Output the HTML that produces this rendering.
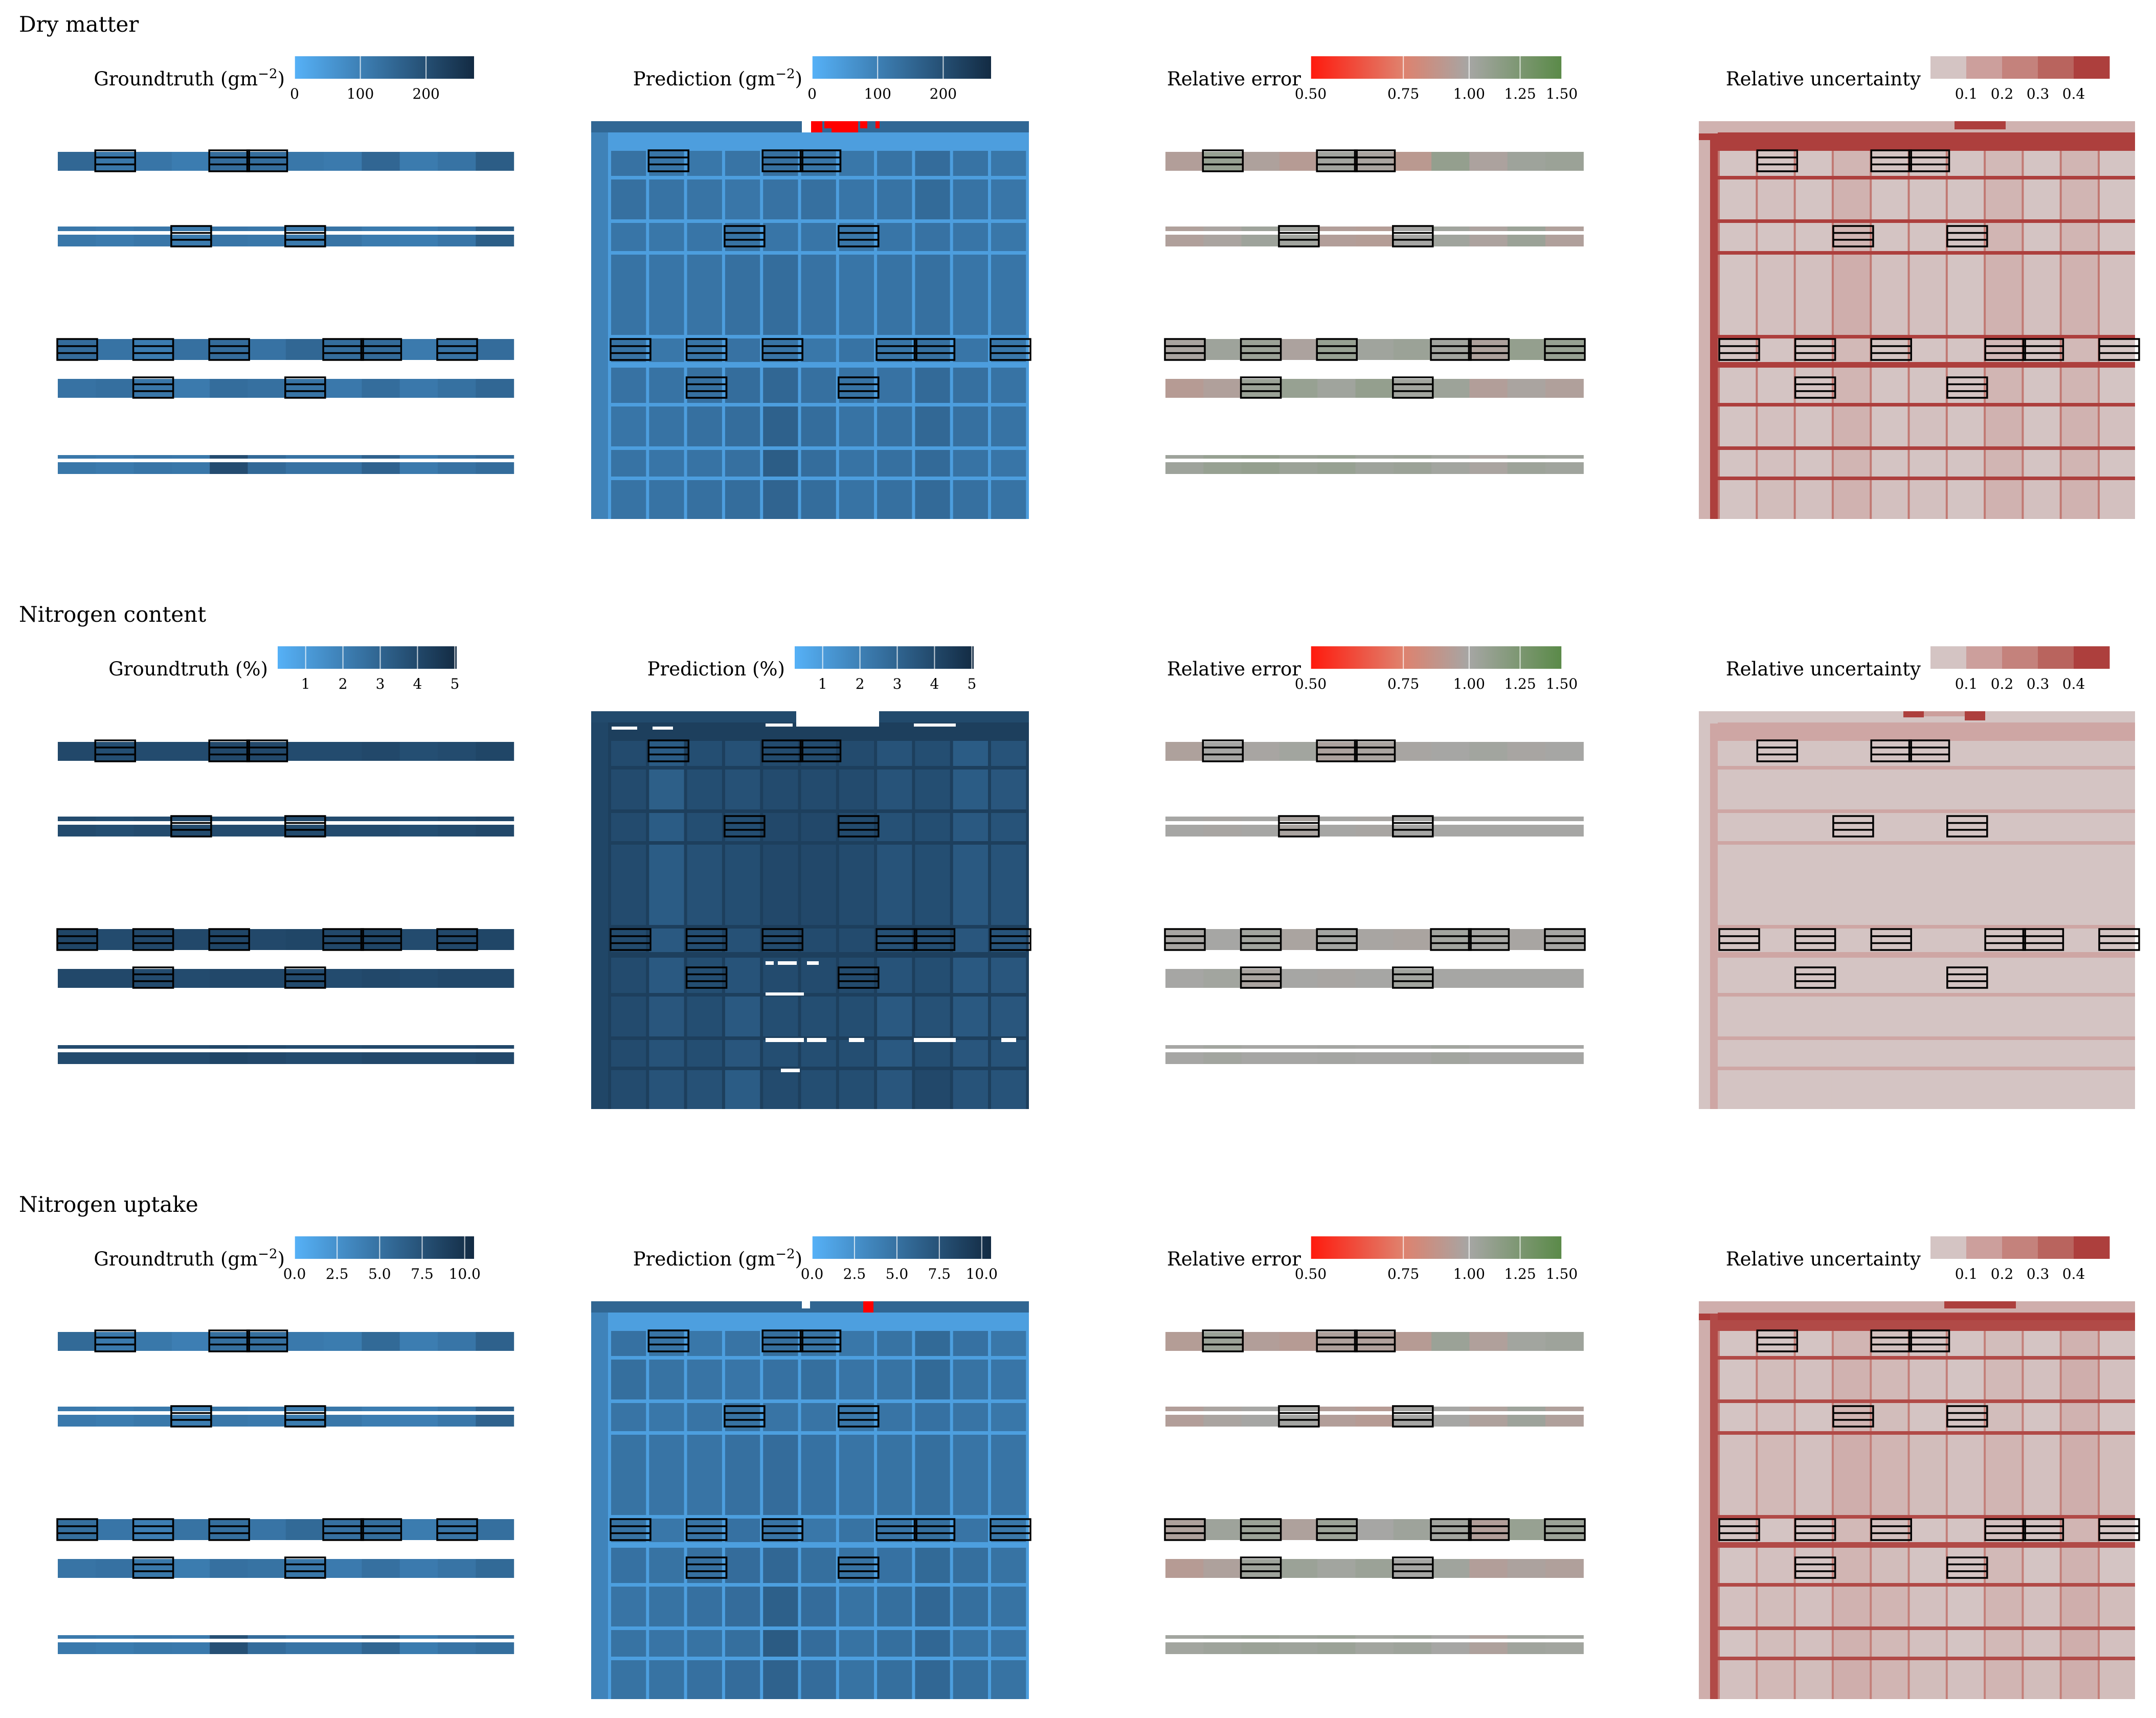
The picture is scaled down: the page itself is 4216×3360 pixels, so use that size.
<!DOCTYPE html>
<html><head><meta charset="utf-8"><title>Dry matter / Nitrogen maps</title>
<style>
html,body{margin:0;padding:0;background:#fff;}
svg{display:block;}
text{font-family:"DejaVu Serif","Liberation Serif",serif;fill:#000;}
</style></head>
<body>
<svg id="fig" xmlns="http://www.w3.org/2000/svg" width="4216" height="3360" viewBox="0 0 4216 3360"></svg>
<script>
// ---------------- DATA ----------------
const rowTitles = ["Dry matter", "Nitrogen content", "Nitrogen uptake"];
const gtLabels = ["Groundtruth (gm", "Groundtruth (%)", "Groundtruth (gm"];
const predLabels = ["Prediction (gm", "Prediction (%)", "Prediction (gm"];
const labelSup = [true, false, true];
const blueMin = [0, 0.25, 0];
const blueMax = [273, 5.05, 10.55];
const blueTicks = [[0,100,200],[1,2,3,4,5],[0,2.5,5,7.5,10]];
const blueTickLabels = [["0","100","200"],["1","2","3","4","5"],["0.0","2.5","5.0","7.5","10.0"]];
const relTicks = [0.5,0.75,1.0,1.25,1.5];
const relTickLabels = ["0.50","0.75","1.00","1.25","1.50"];
const uncBins = [0,0.1,0.2,0.3,0.4,0.5];
const uncTicks = [0.1,0.2,0.3,0.4];
const uncTickLabels = ["0.1","0.2","0.3","0.4"];

// sampled plot boxes (column index per strip)
const boxesA = [1,4,5];
const boxesB = [3,6];
const boxesC = [0,2,4,7,8,10];
const boxesD = [2,6];

// prediction plot values (9 plot rows x 12 columns)
const predDM = [
 [128,122,118,124,132,122,118,126,140,126,118,130],
 [132,126,124,120,128,132,122,126,142,126,120,132],
 [122,118,122,126,122,122,118,122,128,122,118,124],
 [126,122,124,132,138,128,122,126,132,122,122,126],
 [126,118,122,128,124,118,126,122,132,122,118,124],
 [128,126,132,138,150,132,126,128,144,132,126,128],
 [122,126,132,138,162,138,126,132,148,132,126,132],
 [126,122,126,132,172,138,126,132,144,126,122,126],
 [126,126,132,138,156,138,126,132,144,132,126,132]];
const predN = [
 [3.9,3.3,3.8,3.7,3.9,3.9,3.9,3.6,3.8,3.3,3.6,3.7],
 [3.9,3.2,3.8,3.7,3.9,3.9,3.9,3.6,3.8,3.3,3.5,3.7],
 [3.9,3.3,3.8,3.8,4.0,4.0,3.9,3.7,3.8,3.4,3.6,3.7],
 [3.9,3.3,3.7,3.8,4.0,4.0,3.9,3.6,3.8,3.4,3.6,3.7],
 [3.9,3.4,3.8,3.7,3.9,3.9,3.9,3.7,3.8,3.5,3.6,3.7],
 [3.9,3.4,3.8,3.6,3.9,3.9,3.9,3.6,3.8,3.4,3.5,3.7],
 [3.9,3.5,3.8,3.4,3.8,3.8,3.8,3.4,3.7,3.4,3.5,3.7],
 [3.9,3.6,3.8,3.5,3.8,3.8,3.8,3.4,3.8,3.5,3.6,3.7],
 [3.9,3.6,3.7,3.3,3.9,3.8,3.8,3.5,4.0,3.6,3.6,3.7]];
const predNU = [
 [5.0,4.8,4.6,4.8,5.2,4.8,4.6,4.9,5.6,5.0,4.6,5.0],
 [5.2,4.9,4.8,4.7,5.0,5.2,4.8,4.9,5.6,4.9,4.7,5.1],
 [4.8,4.6,4.8,4.9,4.8,4.8,4.6,4.8,5.0,4.8,4.6,4.8],
 [4.9,4.8,4.8,5.1,5.4,5.0,4.8,4.9,5.2,4.8,4.8,4.9],
 [4.9,4.6,4.8,5.0,4.8,4.6,4.9,4.8,5.2,4.8,4.6,4.8],
 [5.0,4.9,5.1,5.4,5.8,5.2,4.9,5.0,5.6,5.2,4.9,5.0],
 [4.8,4.9,5.1,5.4,6.4,5.4,4.9,5.2,5.8,5.2,4.9,5.1],
 [4.9,4.8,4.9,5.2,6.8,5.4,4.9,5.2,5.8,4.9,4.8,4.9],
 [4.9,4.9,5.1,5.4,6.2,5.4,4.9,5.2,5.8,5.2,4.9,5.1]];
const predPath = [38, 4.35, 1.4];
const predMargin = [95, 4.1, 3.6];
const predTop = [150, 3.95, 5.9];

// uncertainty plot values (9 x 12)
const uncDM = [
 [0.03,0.04,0.04,0.09,0.04,0.03,0.04,0.08,0.04,0.09,0.04,0.04],
 [0.04,0.06,0.05,0.10,0.05,0.05,0.05,0.09,0.05,0.09,0.05,0.06],
 [0.03,0.04,0.04,0.09,0.04,0.04,0.04,0.09,0.04,0.09,0.04,0.05],
 [0.05,0.06,0.06,0.11,0.06,0.06,0.05,0.10,0.06,0.10,0.06,0.06],
 [0.03,0.03,0.03,0.08,0.03,0.03,0.03,0.08,0.03,0.08,0.03,0.04],
 [0.04,0.05,0.04,0.09,0.04,0.04,0.04,0.09,0.04,0.09,0.04,0.05],
 [0.05,0.06,0.05,0.10,0.05,0.06,0.04,0.10,0.05,0.10,0.06,0.06],
 [0.04,0.06,0.05,0.09,0.04,0.05,0.04,0.09,0.05,0.09,0.05,0.06],
 [0.05,0.07,0.06,0.10,0.06,0.06,0.05,0.10,0.06,0.10,0.06,0.07]];
const uncN = [
 [0.04,0.04,0.04,0.04,0.04,0.04,0.04,0.04,0.04,0.04,0.04,0.04],
 [0.04,0.04,0.04,0.04,0.04,0.04,0.04,0.04,0.04,0.04,0.04,0.04],
 [0.04,0.04,0.04,0.04,0.04,0.04,0.04,0.04,0.04,0.04,0.04,0.04],
 [0.04,0.04,0.04,0.04,0.04,0.04,0.04,0.04,0.04,0.04,0.04,0.04],
 [0.04,0.04,0.04,0.04,0.04,0.04,0.04,0.04,0.04,0.04,0.04,0.04],
 [0.04,0.04,0.04,0.04,0.04,0.04,0.04,0.04,0.04,0.04,0.04,0.04],
 [0.04,0.04,0.04,0.04,0.04,0.04,0.04,0.04,0.04,0.04,0.04,0.04],
 [0.04,0.04,0.04,0.04,0.04,0.04,0.04,0.04,0.04,0.04,0.04,0.04],
 [0.04,0.04,0.04,0.04,0.04,0.04,0.04,0.04,0.04,0.04,0.04,0.04]];
const uncNU = [
 [0.04,0.05,0.04,0.09,0.06,0.04,0.04,0.07,0.05,0.10,0.05,0.05],
 [0.05,0.07,0.06,0.10,0.08,0.06,0.05,0.08,0.06,0.11,0.06,0.06],
 [0.04,0.06,0.05,0.09,0.07,0.04,0.04,0.07,0.05,0.10,0.05,0.06],
 [0.06,0.08,0.06,0.11,0.09,0.07,0.06,0.09,0.06,0.11,0.07,0.07],
 [0.03,0.04,0.04,0.08,0.06,0.03,0.03,0.06,0.04,0.09,0.04,0.05],
 [0.04,0.06,0.05,0.09,0.07,0.05,0.04,0.08,0.05,0.10,0.05,0.06],
 [0.06,0.07,0.06,0.10,0.09,0.06,0.05,0.09,0.06,0.11,0.07,0.07],
 [0.05,0.07,0.06,0.10,0.08,0.06,0.05,0.08,0.06,0.11,0.06,0.06],
 [0.06,0.08,0.07,0.11,0.09,0.07,0.06,0.09,0.07,0.11,0.07,0.07]];
const uncHPath = [0.45, 0.13, 0.42];
const uncVPath = [0.28, 0.04, 0.26];
const uncMargin = [0.10, 0.04, 0.11];

// groundtruth strip values (5 strips x 12 columns)
const gtDM = [
 [150,118,122,108,140,138,118,112,152,110,126,172],
 [118,112,120,110,122,118,112,124,110,108,122,170],
 [140,126,108,132,140,128,150,138,142,112,128,140],
 [128,134,120,112,138,132,124,116,138,116,130,150],
 [118,112,122,118,205,146,128,128,160,112,128,140]];
const gtN = [
 [4.0,3.8,3.9,3.9,4.0,4.0,3.9,3.9,4.0,3.8,3.9,4.1],
 [3.9,3.8,3.9,3.9,3.9,3.9,3.9,3.9,3.9,3.8,3.9,4.0],
 [4.1,3.9,4.0,4.0,4.1,4.0,4.1,4.0,4.1,3.9,4.0,4.1],
 [4.0,4.0,3.9,3.9,4.0,4.0,3.9,3.9,4.0,3.9,4.0,4.0],
 [3.9,3.9,3.9,3.9,4.1,4.0,3.9,3.9,4.0,3.9,3.9,4.0]];
const gtNU = [
 [5.6,4.4,4.5,4.0,5.2,5.2,4.4,4.2,5.6,4.1,4.7,6.3],
 [4.4,4.2,4.5,4.1,4.6,4.4,4.2,4.6,4.1,4.0,4.6,6.2],
 [5.2,4.7,4.0,4.9,5.2,4.8,5.6,5.1,5.3,4.2,4.8,5.2],
 [4.8,5.0,4.5,4.2,5.1,4.9,4.6,4.3,5.1,4.3,4.8,5.6],
 [4.4,4.2,4.5,4.4,7.6,5.4,4.8,4.8,5.9,4.2,4.8,5.2]];

// relative error strip values (5 strips x 11 columns)
const relDM = [
 [0.94,1.08,0.96,0.92,1.02,0.98,0.90,1.10,0.97,1.04,1.06],
 [0.95,0.98,1.04,1.02,0.94,0.93,1.00,1.03,0.97,1.06,0.95],
 [0.98,1.04,1.06,0.97,1.08,1.03,1.06,1.02,0.96,1.10,1.08],
 [0.92,0.95,1.06,1.08,1.03,1.10,1.02,1.05,0.94,0.98,0.95],
 [1.04,1.08,1.10,1.06,1.08,1.04,1.06,1.02,0.98,1.05,1.03]];
const relN = [
 [0.96,1.00,0.99,1.02,0.97,0.98,0.99,1.00,1.02,0.99,1.00],
 [1.00,0.99,1.00,0.98,1.00,0.99,1.00,1.00,1.00,1.00,1.00],
 [0.99,1.00,1.02,0.98,1.01,0.99,0.98,1.02,1.00,0.99,1.00],
 [1.00,1.02,0.98,1.00,0.99,1.00,1.02,1.00,1.00,1.00,1.00],
 [1.00,1.02,1.00,1.00,1.01,1.00,1.00,1.02,1.00,1.00,1.00]];
const relNU = [
 [0.93,1.06,0.94,0.92,0.96,0.95,0.92,1.06,0.95,1.02,1.04],
 [0.94,0.98,1.00,1.01,0.94,0.92,1.00,1.00,0.96,1.04,0.95],
 [0.96,1.04,1.06,0.96,1.06,1.00,1.04,1.02,0.94,1.08,1.06],
 [0.92,0.96,1.04,1.06,1.02,1.06,1.00,1.03,0.94,0.97,0.95],
 [1.02,1.04,1.06,1.04,1.06,1.02,1.04,1.00,0.96,1.03,1.02]];

// special cells: [x0,y0,x1,y1,value] (null = missing/white)
const predPatchesDM = [[430,0,452,22,300],[456,0,470,14,300],[470,0,522,22,300],[526,0,540,14,300],[556,0,564,14,300],[412,0,430,22,null]];
const predPatchesN = [[401,0,563,30,null],[341,24,394,30,null],[631,24,713,30,null],[341,550,416,556,null],[341,639,416,647,null],[422,639,460,647,null],[504,639,534,647,null],[631,639,713,647,null],[802,639,831,647,null],[341,489,357,496,null],[365,489,402,496,null],[422,489,445,496,null],[371,699,408,706,null],[120,30,160,36,null],[40,30,90,36,null]];
const predPatchesNU = [[532,0,552,22,300],[412,0,428,14,null]];
const uncPatchesDM = [[500,0,600,16,0.45],[0,24,853,37,0.45]];
const uncPatchesN = [[400,0,440,12,0.45],[520,0,560,18,0.45],[440,0,520,10,0.15]];
const uncPatchesNU = [[480,0,620,14,0.45],[0,24,853,37,0.45]];

// ---------------- LAYOUT ----------------
const NS = "http://www.w3.org/2000/svg";
const svg = document.getElementById("fig");
const rowTops = [237, 1391, 2545];
const PANEL_H = 778;
const COLW = 74.3;
const plotRows = [[58,107],[114,192],[199,254],[261,418],[425,471],[482,551],[558,636],[643,695],[702,778]];
const stripRows = [[[60,97]],[[206,215],[222,245]],[[426,467]],[[504,541]],[[653,660],[667,690]]];
const boxRows = [[57,98],[205,245],[426,467],[501,541]];
const boxCols = [boxesA, boxesB, boxesC, boxesD];

function hex2rgb(h){return [parseInt(h.substr(1,2),16),parseInt(h.substr(3,2),16),parseInt(h.substr(5,2),16)];}
function mix(a,b,t){const A=hex2rgb(a),B=hex2rgb(b);return "rgb("+A.map((v,i)=>Math.round(v+(B[i]-v)*t)).join(",")+")";}
function blueColor(v,ri){
  if(v===null) return "#ffffff";
  if(v>blueMax[ri]) return "#ff0000";
  const t=Math.max(0,Math.min(1,(v-blueMin[ri])/(blueMax[ri]-blueMin[ri])));
  return mix("#56B1F7","#132B43",t);
}
function relT(v){return (Math.log(v)-Math.log(0.5))/(Math.log(1.5)-Math.log(0.5));}
const relStops=[[0,"#ff1a0d"],[0.36,"#e0806c"],[0.63,"#a6a6a4"],[1,"#5a8a48"]];
function relColor(v){
  const t=Math.max(0,Math.min(1,relT(v)));
  for(let i=0;i<relStops.length-1;i++){
    if(t<=relStops[i+1][0]){return mix(relStops[i][1],relStops[i+1][1],(t-relStops[i][0])/(relStops[i+1][0]-relStops[i][0]));}
  }
  return relStops[relStops.length-1][1];
}
const uncColors=["#d4c4c3","#cc9f9c","#c4827c","#b9645e","#ad3f3d"];
function uncColor(v){
  const p=Math.max(0,Math.min(4,v/0.1-0.5));
  const i=Math.min(3,Math.floor(p));
  return mix(uncColors[i],uncColors[i+1],p-i);
}
function mk(tag,parent){const e=document.createElementNS(NS,tag);parent.appendChild(e);return e;}
function rect(parent,x,y,w,h,fill,name){
  const r=mk("rect",parent);
  r.setAttribute("x",x.toFixed(1));r.setAttribute("y",y.toFixed(1));
  r.setAttribute("width",Math.max(0,w).toFixed(1));r.setAttribute("height",Math.max(0,h).toFixed(1));
  r.setAttribute("fill",fill);
  
  
  return r;
}
function text(parent,x,y,str,size,anchor,name){
  const t=mk("text",parent);
  t.setAttribute("x",x);t.setAttribute("y",y);t.setAttribute("font-size",size);
  t.setAttribute("text-anchor",anchor);
  t.textContent=str;
  
  
  return t;
}

function blueBar(g,ri,x0,x1,top,label,sup,name){
  const gid="grad"+name;
  const defs=mk("defs",g);
  const lg=mk("linearGradient",defs);lg.setAttribute("id",gid);
  const s1=mk("stop",lg);s1.setAttribute("offset","0");s1.setAttribute("stop-color","#56B1F7");
  const s2=mk("stop",lg);s2.setAttribute("offset","1");s2.setAttribute("stop-color","#132B43");
  rect(g,x0,top-127,x1-x0,44,"url(#"+gid+")",name+"-colorbar");
  const sc=v=>x0+(v-blueMin[ri])/(blueMax[ri]-blueMin[ri])*(x1-x0);
  blueTicks[ri].forEach((v,i)=>{
    rect(g,sc(v)-1,top-127,2,44,"rgba(255,255,255,0.75)",name+"-tick-mark");
    text(g,sc(v),top-44,blueTickLabels[ri][i],28,"middle",name+"-tick-label");
  });
  const t=text(g,x0-19,top-70,label,37,"end",name+"-colorbar-title");
  if(sup){
    const ts=mk("tspan",t);ts.setAttribute("font-size","26");ts.setAttribute("dy","-14");ts.textContent="\u22122";
    const te=mk("tspan",t);te.setAttribute("dy","14");te.textContent=")";
  }
}
function relBar(g,top){
  const x0=2563,x1=3054;
  const defs=mk("defs",g);
  const lg=mk("linearGradient",defs);lg.setAttribute("id","relgrad"+top);
  relStops.forEach(s=>{const st=mk("stop",lg);st.setAttribute("offset",s[0]);st.setAttribute("stop-color",s[1]);});
  rect(g,x0,top-127,x1-x0,44,"url(#relgrad"+top+")","relative-error-colorbar");
  relTicks.forEach((v,i)=>{
    const x=x0+relT(v)*(x1-x0);
    rect(g,x-1,top-127,2,44,"rgba(255,255,255,0.75)","relative-error-tick-mark");
    text(g,x,top-44,relTickLabels[i],28,"middle","relative-error-tick-label");
  });
  text(g,x0-19,top-70,"Relative error",37,"end","relative-error-colorbar-title");
}
function uncBar(g,top){
  const x0=3775,x1=4125;
  const sc=v=>x0+(v-uncBins[0])/(uncBins[uncBins.length-1]-uncBins[0])*(x1-x0);
  for(let i=0;i<uncBins.length-1;i++){
    rect(g,sc(uncBins[i]),top-127,sc(uncBins[i+1])-sc(uncBins[i])+0.5,44,uncColors[i],"uncertainty-colorbar-bin");
  }
  uncTicks.forEach((v,i)=>text(g,sc(v),top-44,uncTickLabels[i],28,"middle","uncertainty-tick-label"));
  text(g,x0-19,top-70,"Relative uncertainty",37,"end","uncertainty-colorbar-title");
}

function drawBoxes(g,col0,top){
  boxRows.forEach((br,s)=>{
    boxCols[s].forEach(k=>{
      const x=col0+k*COLW-1, y=top+br[0], w=78, h=br[1]-br[0];
      const bg=mk("g",g);
      
      
      const r=rect(bg,x,y,w,h,"none","sampled-plot-outline");
      r.setAttribute("stroke","#000");r.setAttribute("stroke-width","3.5");
      [1,2].forEach(j=>{
        rect(bg,x,y+h*j/3-1.5,w,3.5,"#000","sampled-plot-divider");
      });
    });
  });
}

function fieldPanel(g,x,top,w,col0off,gap,matrix,colorFn,margin,topVal,hPath,vPath,patches,name){
  const pg=mk("g",g);
  
  
  rect(pg,x,top,w,PANEL_H,colorFn(margin),name+"-margin");
  rect(pg,x,top,w,22,colorFn(topVal),name+"-headland");
  const fx=x+col0off-gap;
  rect(pg,fx,top+22,x+w-fx,PANEL_H-22,colorFn(vPath),name+"-paths");
  for(let r=0;r<plotRows.length-1;r++){
    rect(pg,fx,top+plotRows[r][1],x+w-fx,plotRows[r+1][0]-plotRows[r][1],colorFn(hPath),name+"-path-row");
  }
  rect(pg,fx,top+22,x+w-fx,plotRows[0][0]-22,colorFn(hPath),name+"-path-row");
  matrix.forEach((row,r)=>{
    row.forEach((v,k)=>{
      const x0=x+col0off+k*COLW;
      const x1=Math.min(x+w,x0+COLW-gap);
      if(x1>x0) rect(pg,x0,top+plotRows[r][0],x1-x0,plotRows[r][1]-plotRows[r][0],colorFn(v),name+"-cell");
    });
  });
  patches.forEach(p=>rect(pg,x+p[0],top+p[1],p[2]-p[0],p[3]-p[1],colorFn(p[4]),name+"-special-cell"));
  return pg;
}
function stripPanel(g,col0,top,nCols,values,colorFn,name){
  const pg=mk("g",g);
  
  
  values.forEach((row,s)=>{
    stripRows[s].forEach(sr=>{
      for(let k=0;k<nCols;k++){
        rect(pg,col0+k*COLW,top+sr[0],COLW+0.6,sr[1]-sr[0],colorFn(row[k]),name+"-strip-cell");
      }
    });
  });
  return pg;
}

const preds=[predDM,predN,predNU];
const uncs=[uncDM,uncN,uncNU];
const gts=[gtDM,gtN,gtNU];
const rels=[relDM,relN,relNU];
const predPatches=[predPatchesDM,predPatchesN,predPatchesNU];
const uncPatches=[uncPatchesDM,uncPatchesN,uncPatchesNU];
const gtBarX=[[576,927],[543,893],[576,927]];
const predBarX=[[1588,1938],[1554,1904],[1588,1938]];
const rowKeys=["dry-matter","nitrogen-content","nitrogen-uptake"];

rowTops.forEach((top,ri)=>{
  const g=mk("g",svg);
  
  
  text(g,37,top-175,rowTitles[ri],42,"start",rowKeys[ri]+"-title");
  const bf=v=>blueColor(v,ri);
  stripPanel(g,113,top,12,gts[ri],bf,rowKeys[ri]+"-groundtruth-map");
  drawBoxes(g,113,top);
  blueBar(g,ri,gtBarX[ri][0],gtBarX[ri][1],top,gtLabels[ri],labelSup[ri],rowKeys[ri]+"-groundtruth");
  fieldPanel(g,1156,top,856,39,6,preds[ri],bf,predMargin[ri],predTop[ri],predPath[ri],predPath[ri],predPatches[ri],rowKeys[ri]+"-prediction-map");
  drawBoxes(g,1195,top);
  blueBar(g,ri,predBarX[ri][0],predBarX[ri][1],top,predLabels[ri],labelSup[ri],rowKeys[ri]+"-prediction");
  stripPanel(g,2279,top,11,rels[ri],relColor,rowKeys[ri]+"-relative-error-map");
  drawBoxes(g,2279,top);
  relBar(g,top);
  const up=fieldPanel(g,3322,top,853,41,4,uncs[ri],uncColor,uncMargin[ri],uncMargin[ri],uncHPath[ri],uncVPath[ri],uncPatches[ri],rowKeys[ri]+"-uncertainty-map");
  rect(up,3322+22,top+24,15,PANEL_H-24,uncColor(uncHPath[ri]),"uncertainty-edge-path");
  drawBoxes(g,3363,top);
  uncBar(g,top);
});
</script>
</body></html>
